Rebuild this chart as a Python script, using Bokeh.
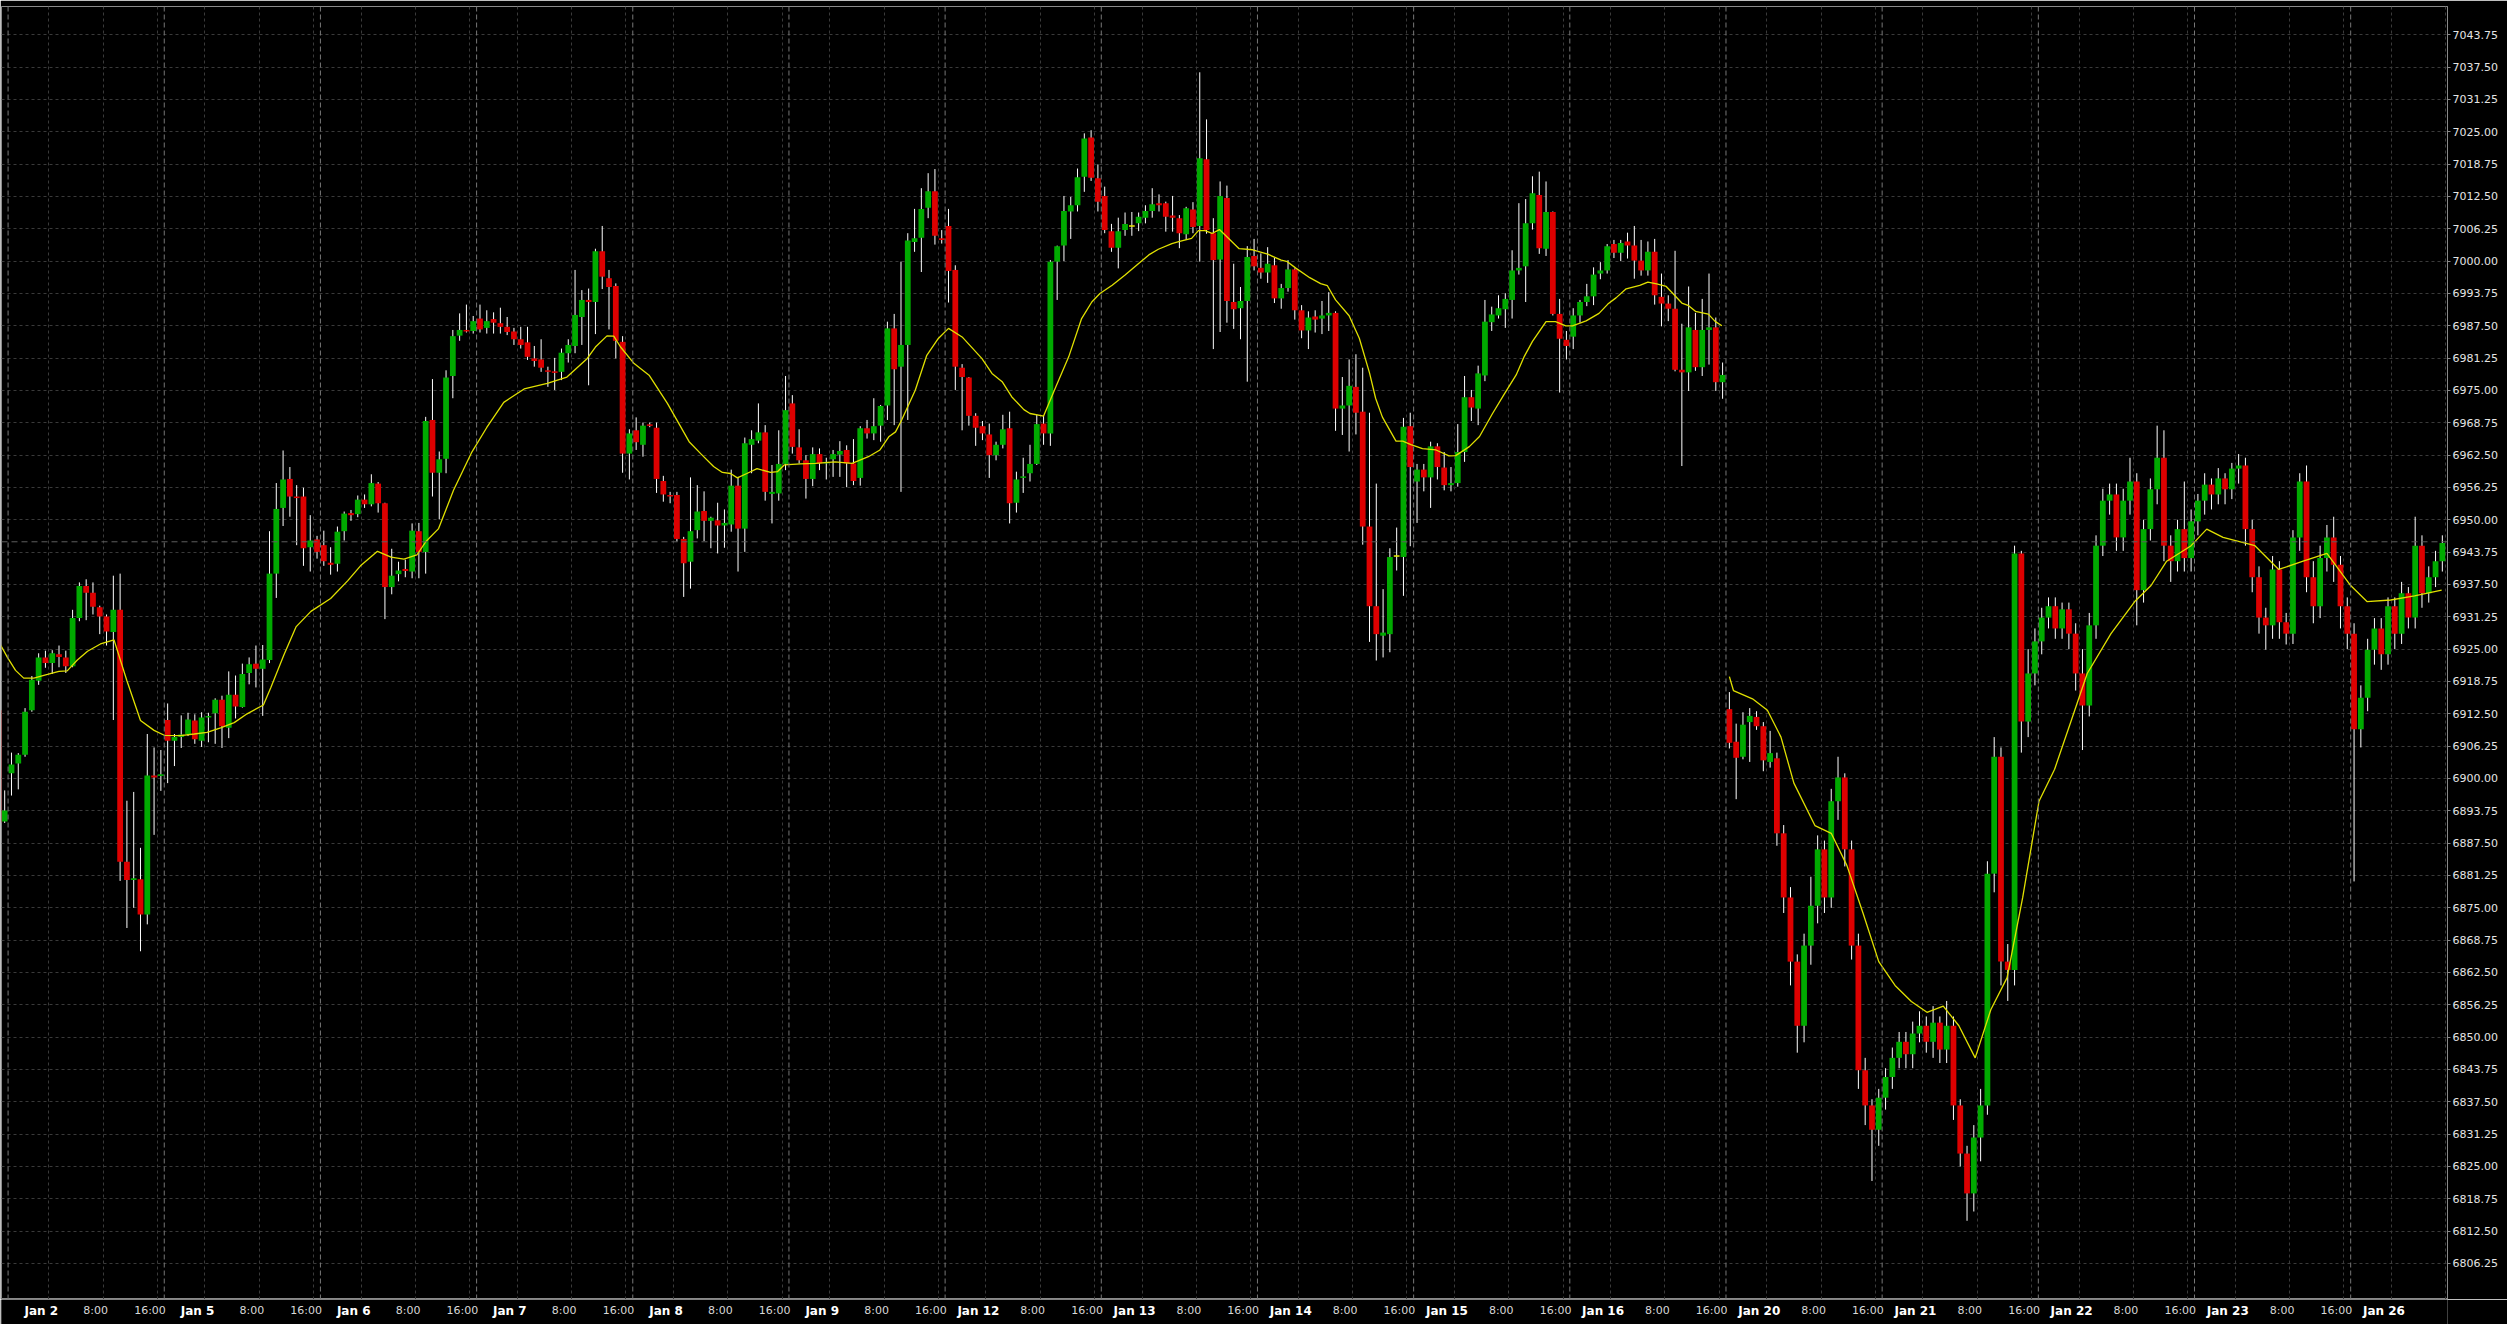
from bokeh.plotting import figure
from bokeh.layouts import column
from bokeh.models import ColumnDataSource, FixedTicker, PrintfTickFormatter, Span, Range1d
from bokeh.embed import file_html
from bokeh.resources import INLINE
from bokeh.core.properties import value

# ---------------- data (hourly bars, 23 per trading session) ----------------
first_bar = -1
opens = [
    6913.2, 6891.7,
    6901.0, 6902.9, 6904.6, 6913.2, 6918.9, 6923.4, 6922.3, 6924.0, 6923.4, 6921.7, 6931.0, 6937.2, 6935.9, 6933.1, 6931.3, 6928.3, 6932.6, 6883.9, 6880.4, 6880.5, 6873.7, 6900.6, 6900.5,
    6911.3, 6907.3, 6908.0, 6908.6, 6911.2, 6907.3, 6911.8, 6912.6, 6915.2, 6909.8, 6916.2, 6913.8, 6920.4, 6922.2, 6921.2, 6922.9, 6939.6, 6952.3, 6957.9, 6954.5, 6954.5, 6944.7, 6946.2,
    6945.1, 6941.7, 6941.5, 6947.8, 6951.3, 6951.1, 6953.9, 6953.0, 6957.0, 6953.2, 6937.0, 6939.5, 6940.5, 6940.0, 6947.8, 6943.8, 6969.3, 6959.1, 6961.8, 6977.8, 6985.6, 6986.7, 6986.5,
    6988.9, 6987.1, 6988.8, 6988.0, 6987.3, 6986.4, 6984.9, 6984.3, 6981.2, 6981.0, 6978.9, 6978.7, 6978.6, 6982.2, 6983.6, 6989.2, 6992.5, 6992.1, 7001.9, 6996.7, 6995.2, 6984.4, 6962.8,
    6967.3, 6964.5, 6968.4, 6967.8, 6957.5, 6954.8, 6954.8, 6946.3, 6941.9, 6948.0, 6951.7, 6949.8, 6949.9, 6948.9, 6949.1, 6956.6, 6948.3, 6964.5, 6965.3, 6966.9, 6955.0, 6955.1, 6960.8,
    6972.5, 6964.0, 6961.5, 6957.9, 6962.7, 6960.9, 6961.7, 6962.6, 6963.5, 6960.9, 6958.1, 6967.7, 6966.7, 6968.2, 6972.1, 6987.0, 6979.6, 6983.8, 7003.7, 7004.5, 7010.3, 7013.5, 7004.4,
    7006.8, 6998.3, 6979.4, 6977.5, 6970.1, 6968.1, 6966.5, 6962.5, 6964.5, 6967.7, 6953.3, 6958.1, 6959.0, 6960.8, 6968.6, 6966.7, 6999.9, 7003.0, 7009.6, 7010.8, 7016.3, 7023.9, 7016.0,
    7012.6, 7005.8, 7002.6, 7006.0, 7006.8, 7007.3, 7008.4, 7009.7, 7011.2, 7011.2, 7008.8, 7008.3, 7005.2, 7010.0, 7006.8, 7019.7, 7005.4, 7000.3, 7012.2, 6992.1, 6990.9, 6992.3, 7001.0,
    6998.7, 6997.8, 6999.2, 6992.8, 6994.8, 6998.4, 6990.5, 6986.6, 6989.3, 6988.9, 6989.5, 6990.0, 6971.5, 6972.1, 6975.7, 6970.9, 6948.7, 6933.3, 6927.6, 6927.9, 6943.0, 6942.8, 6968.1,
    6957.4, 6959.7, 6958.2, 6964.2, 6960.1, 6956.7, 6957.1, 6963.1, 6973.7, 6971.5, 6977.9, 6988.2, 6989.5, 6990.7, 6992.5, 6998.2, 6999.0, 7007.3, 7012.8, 7002.4, 7009.5, 6989.8, 6984.8,
    6985.4, 6989.5, 6992.1, 6993.2, 6997.6, 6998.2, 7003.3, 7001.6, 7003.8, 7003.0, 7000.1, 6998.2, 7001.8, 6993.1, 6991.8, 6990.8, 6979.0, 6978.5, 6986.7, 6979.5, 6986.7, 6987.2, 6976.6,
    6913.4, 6907.1, 6904.2, 6910.9, 6911.9, 6910.1, 6903.2, 6903.9, 6889.4, 6877.0, 6864.6, 6852.2, 6867.7, 6875.4, 6886.3, 6877.0, 6895.6, 6900.2, 6886.3, 6867.7, 6843.6, 6836.8, 6832.1,
    6838.3, 6842.3, 6846.0, 6849.1, 6846.7, 6850.7, 6852.2, 6849.1, 6852.8, 6847.6, 6852.2, 6836.8, 6827.5, 6819.8, 6830.6, 6836.8, 6881.6, 6904.2, 6864.6, 6863.0, 6943.5, 6911.0, 6920.3,
    6926.5, 6931.1, 6933.3, 6929.0, 6932.7, 6928.0, 6920.3, 6914.1, 6929.6, 6945.0, 6953.7, 6954.9, 6946.6, 6953.7, 6957.4, 6936.4, 6948.2, 6955.9, 6962.0, 6945.0, 6942.0, 6948.2, 6942.6,
    6949.7, 6953.7, 6956.8, 6954.9, 6958.0, 6955.9, 6959.9, 6960.5, 6948.2, 6938.9, 6931.1, 6929.6, 6940.4, 6930.2, 6928.0, 6946.6, 6957.4, 6938.9, 6933.3, 6942.6, 6946.6, 6941.3, 6933.3,
    6928.0, 6909.5, 6915.6, 6924.9, 6929.0, 6924.0, 6933.3, 6928.0, 6935.8, 6931.1, 6945.0, 6935.8, 6938.9, 6942.0,
]
highs = [
    6914.0, 6897.7,
    6905.0, 6904.9, 6913.6, 6919.8, 6924.2, 6924.7, 6924.8, 6925.7, 6924.7, 6932.6, 6937.9, 6938.5, 6937.9, 6933.4, 6931.7, 6939.2, 6939.6, 6895.7, 6897.4, 6886.6, 6908.6, 6906.0, 6905.5,
    6914.5, 6908.6, 6912.2, 6912.7, 6912.4, 6912.8, 6912.7, 6915.5, 6916.0, 6920.7, 6919.9, 6922.2, 6923.4, 6925.7, 6925.8, 6947.8, 6957.1, 6963.4, 6960.2, 6956.7, 6956.2, 6950.9, 6946.9,
    6947.9, 6944.7, 6948.7, 6951.6, 6951.9, 6954.7, 6954.9, 6958.8, 6957.3, 6953.3, 6944.4, 6941.9, 6942.3, 6949.3, 6949.4, 6969.9, 6977.2, 6963.2, 6978.9, 6986.7, 6989.9, 6991.6, 6989.4,
    6991.6, 6990.5, 6990.1, 6991.0, 6989.2, 6987.1, 6987.3, 6987.3, 6983.6, 6984.9, 6979.6, 6981.3, 6983.1, 6984.9, 6998.3, 6994.4, 6994.7, 7002.4, 7006.8, 6998.3, 6995.7, 6985.5, 6967.5,
    6969.8, 6968.8, 6968.8, 6968.8, 6958.5, 6955.4, 6955.4, 6946.7, 6958.2, 6956.7, 6955.5, 6950.6, 6953.3, 6952.0, 6959.7, 6958.3, 6965.9, 6967.3, 6972.5, 6968.3, 6960.6, 6967.3, 6977.8,
    6974.1, 6967.5, 6962.5, 6964.0, 6963.8, 6962.0, 6963.5, 6965.2, 6964.4, 6965.6, 6968.1, 6969.3, 6973.5, 6972.2, 6988.3, 6989.8, 6999.9, 7005.4, 7010.1, 7014.1, 7017.0, 7017.8, 7006.0,
    7010.1, 6999.2, 6980.1, 6977.6, 6970.6, 6969.1, 6968.6, 6965.1, 6970.3, 6970.9, 6959.3, 6962.0, 6964.5, 6970.3, 6970.1, 7000.2, 7003.0, 7012.6, 7012.4, 7017.9, 7024.7, 7025.3, 7018.7,
    7014.4, 7007.2, 7008.4, 7009.4, 7009.5, 7009.4, 7010.8, 7014.1, 7012.9, 7011.5, 7012.6, 7008.9, 7010.5, 7011.4, 7036.5, 7027.4, 7008.3, 7015.4, 7014.6, 6999.5, 6995.0, 7002.9, 7004.3,
    7001.5, 7002.7, 7000.6, 6995.6, 7000.2, 6998.6, 6991.5, 6990.3, 6990.5, 6992.3, 6994.0, 6990.3, 6977.6, 6981.0, 6982.0, 6979.4, 6970.7, 6957.0, 6936.6, 6944.5, 6948.5, 6969.7, 6970.7,
    6960.8, 6960.8, 6965.1, 6964.8, 6963.1, 6960.2, 6968.5, 6977.8, 6975.1, 6979.8, 6992.5, 6991.2, 6993.4, 6993.8, 7002.1, 7011.2, 7012.0, 7016.4, 7017.3, 7015.4, 7009.6, 6992.7, 6986.5,
    6990.9, 6992.5, 6995.6, 6998.8, 6999.8, 7003.3, 7004.1, 7004.1, 7005.5, 7006.8, 7004.1, 7003.8, 7004.3, 6997.6, 6993.4, 7002.0, 6987.9, 6995.1, 6990.0, 6992.7, 6997.6, 6989.1, 6980.4,
    6916.7, 6910.6, 6912.8, 6913.6, 6913.0, 6910.9, 6909.2, 6905.0, 6891.0, 6879.0, 6866.0, 6870.0, 6881.0, 6889.0, 6888.0, 6898.0, 6904.2, 6901.0, 6888.0, 6870.0, 6846.0, 6838.0, 6840.0,
    6844.0, 6848.0, 6851.0, 6851.0, 6853.0, 6855.0, 6854.0, 6856.0, 6854.0, 6857.0, 6854.0, 6838.0, 6829.0, 6833.0, 6840.0, 6884.0, 6908.0, 6906.0, 6868.0, 6945.0, 6944.0, 6925.0, 6929.0,
    6933.0, 6935.0, 6935.0, 6934.0, 6934.0, 6930.0, 6925.0, 6932.0, 6947.0, 6956.0, 6957.0, 6957.0, 6956.0, 6962.0, 6959.0, 6950.0, 6958.0, 6968.2, 6967.3, 6947.0, 6950.0, 6957.4, 6952.0,
    6955.0, 6959.0, 6958.0, 6960.0, 6959.0, 6961.0, 6962.7, 6962.0, 6950.0, 6941.0, 6933.0, 6943.0, 6942.0, 6932.0, 6948.0, 6959.0, 6960.5, 6942.0, 6945.0, 6949.0, 6950.6, 6943.0, 6935.0,
    6930.0, 6918.0, 6927.0, 6931.0, 6931.0, 6935.0, 6935.0, 6938.0, 6937.0, 6950.6, 6947.0, 6941.0, 6944.0, 6947.0,
]
lows = [
    6890.5, 6891.4,
    6896.7, 6897.9, 6904.2, 6912.9, 6918.1, 6921.4, 6920.2, 6921.5, 6920.4, 6921.5, 6930.4, 6930.6, 6931.7, 6927.9, 6925.7, 6911.3, 6880.2, 6871.1, 6875.0, 6866.6, 6871.8, 6889.1, 6897.6,
    6899.1, 6902.4, 6905.9, 6908.2, 6906.7, 6906.1, 6907.0, 6906.7, 6905.9, 6907.8, 6911.6, 6913.7, 6918.2, 6917.6, 6912.1, 6922.3, 6934.9, 6948.8, 6950.6, 6945.1, 6941.1, 6940.0, 6942.5,
    6941.1, 6939.4, 6940.0, 6946.0, 6949.8, 6950.5, 6952.3, 6952.6, 6951.4, 6930.8, 6935.6, 6938.1, 6938.9, 6938.7, 6938.7, 6939.6, 6954.5, 6950.1, 6959.0, 6973.5, 6984.6, 6986.2, 6986.0,
    6986.2, 6986.0, 6986.0, 6986.0, 6985.7, 6983.8, 6983.1, 6980.9, 6979.6, 6978.6, 6975.7, 6975.1, 6977.0, 6980.4, 6982.2, 6983.8, 6976.0, 6985.9, 6994.6, 6986.8, 6981.2, 6959.1, 6957.8,
    6963.5, 6962.2, 6967.9, 6955.2, 6953.5, 6953.2, 6945.8, 6935.1, 6936.7, 6946.4, 6945.9, 6944.5, 6943.5, 6944.6, 6947.7, 6940.0, 6943.8, 6959.0, 6964.8, 6953.7, 6949.3, 6953.7, 6959.6,
    6962.8, 6960.9, 6954.1, 6956.5, 6959.6, 6957.8, 6958.3, 6958.3, 6956.3, 6956.7, 6956.6, 6965.7, 6965.4, 6965.1, 6969.3, 6968.3, 6955.4, 6969.3, 7001.8, 6997.9, 7008.3, 7003.2, 7003.4,
    6992.0, 6975.1, 6967.3, 6968.2, 6964.3, 6965.4, 6958.1, 6961.5, 6963.8, 6949.3, 6951.4, 6955.2, 6957.4, 6960.6, 6964.5, 6964.3, 6992.5, 7000.0, 7004.3, 7009.6, 7013.4, 7015.5, 7009.6,
    7005.4, 7001.8, 6998.6, 7004.9, 7004.9, 7005.8, 7007.3, 7008.4, 7009.6, 7005.7, 7005.7, 7002.5, 7004.1, 7005.4, 6999.9, 7005.3, 6983.0, 6986.3, 6988.1, 6986.9, 6984.9, 6976.7, 6998.2,
    6996.6, 6995.8, 6991.9, 6990.8, 6994.1, 6988.7, 6985.1, 6983.0, 6986.2, 6985.9, 6986.5, 6967.2, 6966.4, 6963.2, 6966.5, 6945.2, 6926.4, 6922.8, 6923.4, 6924.4, 6940.2, 6935.3, 6944.9,
    6949.4, 6955.5, 6952.3, 6957.8, 6955.7, 6955.5, 6956.4, 6961.2, 6969.1, 6968.3, 6976.8, 6986.5, 6988.9, 6987.1, 6988.9, 6997.4, 6992.1, 7006.1, 7001.4, 7001.0, 6989.5, 6974.6, 6981.0,
    6983.0, 6988.1, 6991.3, 6991.5, 6996.5, 6997.6, 7000.6, 7000.0, 7000.5, 6996.6, 6997.2, 6997.2, 6991.6, 6987.4, 6988.4, 6978.7, 6960.4, 6974.9, 6978.8, 6977.8, 6980.0, 6974.9, 6973.4,
    6905.8, 6896.0, 6903.7, 6903.2, 6909.4, 6901.4, 6902.1, 6887.0, 6874.0, 6860.0, 6847.0, 6849.0, 6864.0, 6872.0, 6874.0, 6875.0, 6892.0, 6883.0, 6865.0, 6840.0, 6833.0, 6822.2, 6829.0,
    6836.0, 6840.0, 6844.0, 6844.0, 6844.0, 6849.0, 6847.0, 6846.0, 6845.0, 6845.0, 6834.0, 6825.0, 6814.5, 6816.3, 6826.0, 6835.0, 6878.0, 6860.0, 6857.0, 6860.0, 6905.0, 6908.0, 6918.0,
    6924.0, 6929.0, 6927.0, 6927.0, 6925.0, 6917.0, 6905.5, 6912.0, 6927.0, 6943.0, 6951.0, 6944.0, 6944.0, 6951.0, 6929.6, 6934.0, 6946.0, 6953.0, 6942.0, 6938.0, 6940.0, 6940.0, 6940.0,
    6947.0, 6951.0, 6952.0, 6953.0, 6953.0, 6954.0, 6957.0, 6945.0, 6936.0, 6928.0, 6924.9, 6927.0, 6927.0, 6925.9, 6926.0, 6944.0, 6936.0, 6930.0, 6931.0, 6940.0, 6938.0, 6929.0, 6925.0,
    6880.1, 6906.0, 6913.0, 6922.0, 6921.0, 6922.0, 6925.0, 6926.0, 6929.0, 6929.0, 6933.0, 6934.0, 6937.0, 6940.0,
]
closes = [
    6891.5, 6893.8,
    6902.7, 6904.6, 6912.9, 6919.1, 6923.4, 6922.3, 6924.2, 6923.5, 6921.7, 6931.0, 6937.2, 6935.9, 6933.2, 6931.3, 6928.4, 6932.6, 6883.9, 6880.4, 6880.7, 6873.7, 6900.6, 6900.2, 6900.8,
    6907.3, 6908.0, 6908.5, 6911.4, 6907.6, 6911.8, 6912.1, 6915.2, 6910.1, 6916.2, 6913.9, 6920.2, 6922.1, 6921.2, 6923.0, 6939.6, 6952.1, 6957.8, 6954.5, 6954.2, 6944.5, 6946.0, 6943.8,
    6942.0, 6941.3, 6947.7, 6951.2, 6950.9, 6953.9, 6953.0, 6957.1, 6953.2, 6937.0, 6939.2, 6940.2, 6940.1, 6947.9, 6943.8, 6969.1, 6959.1, 6961.7, 6977.5, 6985.5, 6986.7, 6986.4, 6988.4,
    6986.8, 6988.4, 6988.1, 6987.3, 6986.3, 6984.9, 6983.8, 6981.5, 6980.7, 6979.4, 6978.6, 6978.4, 6982.3, 6983.8, 6989.6, 6992.5, 6992.1, 7001.9, 6997.0, 6995.0, 6984.6, 6962.8, 6966.7,
    6965.0, 6968.2, 6968.2, 6957.9, 6954.9, 6954.5, 6946.3, 6941.6, 6947.8, 6951.6, 6949.8, 6950.4, 6948.9, 6949.4, 6956.6, 6948.3, 6964.8, 6965.6, 6966.9, 6955.4, 6955.4, 6960.8, 6971.2,
    6964.1, 6961.5, 6957.9, 6962.7, 6960.9, 6961.2, 6962.7, 6963.3, 6960.9, 6957.5, 6967.7, 6966.7, 6968.1, 6972.0, 6987.0, 6979.1, 6983.8, 7004.0, 7004.4, 7010.1, 7013.5, 7004.9, 7004.1,
    6998.1, 6979.6, 6977.6, 6970.1, 6967.8, 6966.7, 6962.5, 6964.5, 6967.5, 6953.2, 6957.8, 6958.4, 6960.8, 6968.5, 6966.7, 6999.9, 7002.9, 7009.7, 7010.8, 7016.2, 7023.7, 7016.1, 7011.5,
    7006.0, 7002.6, 7005.8, 7007.2, 7006.8, 7008.6, 7009.7, 7011.0, 7010.8, 7008.6, 7008.4, 7005.4, 7010.2, 7006.6, 7019.9, 7006.0, 7000.2, 7012.6, 6992.3, 6990.7, 6992.3, 7000.8, 6999.0,
    6997.8, 6999.5, 6992.8, 6994.8, 6998.4, 6990.5, 6986.6, 6989.1, 6988.7, 6989.5, 6990.0, 6971.5, 6972.1, 6975.9, 6970.7, 6948.7, 6933.3, 6927.9, 6928.2, 6942.8, 6943.0, 6968.0, 6960.2,
    6959.7, 6958.2, 6964.2, 6960.2, 6956.7, 6957.1, 6963.1, 6973.7, 6971.7, 6978.3, 6988.3, 6989.7, 6990.9, 6992.7, 6998.2, 6998.7, 7007.3, 7013.1, 7002.5, 7009.5, 6989.8, 6985.0, 6983.6,
    6989.5, 6992.1, 6993.2, 6997.4, 6998.2, 7002.9, 7001.6, 7003.5, 7003.0, 7000.1, 6998.2, 7001.8, 6993.4, 6991.8, 6990.8, 6979.0, 6978.5, 6987.2, 6979.5, 6986.7, 6987.2, 6976.6, 6978.0,
    6906.9, 6904.0, 6910.4, 6912.1, 6910.1, 6903.5, 6904.9, 6889.4, 6877.0, 6864.6, 6852.2, 6867.7, 6875.4, 6886.3, 6877.0, 6895.6, 6900.2, 6886.3, 6867.7, 6843.6, 6836.8, 6832.1, 6838.3,
    6842.3, 6846.0, 6849.1, 6846.7, 6850.7, 6852.2, 6849.1, 6852.8, 6847.6, 6852.2, 6836.8, 6827.5, 6819.8, 6830.6, 6836.8, 6881.6, 6904.2, 6864.6, 6863.0, 6943.5, 6911.0, 6920.3, 6926.5,
    6931.1, 6933.3, 6929.0, 6932.7, 6928.0, 6920.3, 6914.1, 6929.6, 6945.0, 6953.7, 6954.9, 6946.6, 6953.7, 6957.4, 6936.4, 6948.2, 6955.9, 6962.0, 6945.0, 6942.0, 6948.2, 6942.6, 6949.7,
    6953.7, 6956.8, 6954.9, 6958.0, 6955.9, 6959.9, 6960.5, 6948.2, 6938.9, 6931.1, 6929.6, 6940.4, 6930.2, 6928.0, 6946.6, 6957.4, 6938.9, 6933.3, 6942.6, 6946.6, 6941.3, 6933.3, 6928.0,
    6909.5, 6915.6, 6924.9, 6929.0, 6924.0, 6933.3, 6928.0, 6935.8, 6931.1, 6945.0, 6935.8, 6938.9, 6942.0, 6945.5,
]

# moving average line (two pieces)
ma1_bar = [-0.6, 0.4, 1.6, 2.8, 4.3, 6.3, 8.0, 9.2, 10.7, 12.2, 14.1, 16.1, 18.0, 20.0, 22.0, 23.5, 25.9, 27.9, 29.8, 31.8,
           33.8, 35.7, 38.1, 39.2, 41.1, 42.9, 45.1, 48.0, 50.5, 52.4, 54.9, 56.9, 58.8, 60.7, 62.0, 63.9, 66.1, 68.8, 71.0, 73.5,
           76.5, 79.9, 82.8, 85.8, 87.0, 88.7, 89.7, 90.7, 92.7, 94.9, 97.6, 100.8, 102.5, 104.4, 105.7, 106.9, 107.9, 109.3, 110.8, 112.8,
           113.8, 114.8, 117.2, 119.4, 122.3, 124.8, 127.2, 128.9, 130.2, 131.2, 132.1, 134.1, 135.8, 137.5, 139.0, 141.0, 143.9, 145.4, 146.9, 148.3,
           150.1, 151.0, 153.0, 154.7, 156.7, 158.6, 160.1, 161.3, 163.1, 165.0, 167.0, 168.5, 169.9, 171.9, 172.9, 174.8, 175.8, 176.8, 177.8, 178.9,
           181.8, 183.8, 186.0, 188.0, 188.9, 190.2, 192.2, 193.8, 194.8, 196.0, 198.0, 199.5, 201.0, 201.9, 202.9, 204.9, 205.9, 207.1, 208.8, 210.8,
           212.7, 213.7, 215.7, 217.2, 219.1, 220.8, 222.6, 223.8, 225.0, 227.0, 228.4, 229.9, 230.9, 232.9, 234.8, 236.1, 237.3, 238.8, 240.8, 242.0,
           243.3, 244.7, 247.0, 248.0, 249.0, 250.9, 251.9, 252.9]
ma1_val = [6925.8, 6923.4, 6920.9, 6919.4, 6919.4, 6920.1, 6920.7, 6920.8, 6922.9, 6924.6, 6926.0, 6926.8, 6918.9, 6911.2, 6909.3, 6908.35, 6908.3, 6908.6, 6908.9, 6909.8,
           6910.8, 6912.5, 6914.2, 6917.6, 6923.8, 6929.3, 6932.3, 6934.8, 6938.2, 6941.1, 6943.9, 6942.8, 6942.4, 6943.2, 6945.75, 6948.3, 6955.7, 6963.1, 6967.85, 6972.7,
           6975.3, 6976.35, 6977.6, 6981.2, 6983.4, 6985.55, 6985.5, 6983.4, 6980.2, 6977.95, 6972.5, 6965.1, 6962.8, 6960.3, 6959.15, 6958.95, 6958.1, 6958.95, 6959.9, 6959.15,
           6959.3, 6960.6, 6960.8, 6960.9, 6961.2, 6960.9, 6962.2, 6963.5, 6966.05, 6967.0, 6969.3, 6975.05, 6981.8, 6985.05, 6987.0, 6985.35, 6981.2, 6978.3, 6976.7, 6973.8,
           6971.3, 6970.55, 6970.05, 6975.4, 6981.5, 6988.9, 6992.1, 6993.75, 6995.35, 6997.3, 6999.55, 7001.2, 7002.3, 7003.4, 7003.75, 7004.4, 7005.9, 7005.9, 7005.35, 7006.1,
           7002.4, 7002.2, 7001.35, 7000.2, 6999.9, 6998.6, 6996.8, 6995.65, 6995.25, 6992.5, 6989.45, 6985.1, 6978.4, 6973.5, 6969.85, 6965.2, 6965.2, 6964.55, 6963.75, 6963.5,
           6962.35, 6962.4, 6964.15, 6966.1, 6970.5, 6974.2, 6978.0, 6981.6, 6984.5, 6988.3, 6988.3, 6987.5, 6987.5, 6988.45, 6989.9, 6991.7, 6992.9, 6994.65, 6995.3, 6995.95,
           6995.6, 6995.1, 6991.9, 6991.4, 6990.3, 6989.75, 6988.35, 6987.5]
ma2_bar = [254.0, 254.6, 257.4, 259.6, 261.6, 263.5, 266.6, 269.0, 271.3, 273.7, 276.0, 278.4, 280.8, 283.1, 285.5, 287.8, 290.2, 292.5, 294.9, 297.2,
           299.6, 301.9, 304.3, 306.7, 310.2, 313.7, 316.1, 318.4, 322.0, 324.3, 326.7, 331.4, 334.9, 338.5, 342.0, 345.5, 347.9, 351.4, 354.9, 358.9]
ma2_val = [6919.7, 6917.0, 6915.4, 6913.2, 6908.0, 6899.1, 6890.9, 6889.4, 6883.2, 6873.9, 6864.6, 6860.0, 6856.9, 6854.8, 6856.0, 6852.2, 6846.0, 6855.3, 6861.5, 6877.0,
           6895.6, 6901.8, 6911.0, 6920.3, 6928.0, 6934.2, 6937.3, 6942.0, 6945.0, 6948.2, 6946.6, 6945.0, 6940.4, 6942.0, 6943.5, 6937.3, 6934.2, 6934.5, 6935.3, 6936.4]

day_names = ["Jan 2", "Jan 5", "Jan 6", "Jan 7", "Jan 8", "Jan 9", "Jan 12", "Jan 13",
             "Jan 14", "Jan 15", "Jan 16", "Jan 20", "Jan 21", "Jan 22", "Jan 23", "Jan 26"]
time_names = ["8:00", "16:00"]
bars_per_session = 23
first_session_bar = 1
offset_midnight, offset_8, offset_16 = 6, 14, 22     # bars after the 18:00 session open
price_ticks = [6806.25 + 6.25 * k for k in range(39)]
last_price = 6945.75

# ---------------- figure ----------------
W = 2507
H_MAIN, H_LAB = 1299, 25
MB_TOP, MB_LEFT, MB_RIGHT = 6, 1, 60
x0, x1 = -0.47, 359.76
y0, y1 = 6799.29, 7049.22
BG = "#000000"

p = figure(width=W, height=H_MAIN, output_backend="svg", toolbar_location=None,
           x_range=Range1d(x0, x1), y_range=Range1d(y0, y1), y_axis_location="right",
           min_border_left=MB_LEFT, min_border_top=MB_TOP, min_border_right=MB_RIGHT, min_border_bottom=0)
p.background_fill_color = BG
p.border_fill_color = BG
p.outline_line_color = "#8a8a8a"
p.outline_line_width = 1

p.xaxis.visible = False
p.yaxis.ticker = FixedTicker(ticks=price_ticks)
p.yaxis.formatter = PrintfTickFormatter(format="%.2f")
p.yaxis.major_label_text_color = "#e4e4e4"
p.yaxis.major_label_text_font = "DejaVu Sans"
p.yaxis.major_label_text_font_size = "11px"
p.yaxis.axis_line_color = "#8a8a8a"
p.yaxis.major_tick_line_color = "#8a8a8a"
p.yaxis.major_tick_out = 3
p.yaxis.major_tick_in = 0
p.yaxis.minor_tick_line_color = None
p.yaxis.major_label_standoff = 2

sess_starts = [first_session_bar + bars_per_session * k for k in range(len(day_names))]
grid_x = []
for s in sess_starts:
    for off in (offset_midnight, offset_8, offset_16):
        gx = s + off - 0.5
        if gx <= x1:
            grid_x.append(gx)
p.xgrid.ticker = FixedTicker(ticks=grid_x)
p.xgrid.grid_line_color = "#3a3a3a"
p.xgrid.grid_line_dash = "3 3"
p.ygrid.ticker = FixedTicker(ticks=price_ticks)
p.ygrid.grid_line_color = "#3a3a3a"
p.ygrid.grid_line_dash = "3 3"

for s in sess_starts:
    p.add_layout(Span(location=s - 0.5, dimension="height", line_color="#777777",
                      line_dash="5 3", line_width=1))
p.add_layout(Span(location=last_price, dimension="width", line_color="#5e5e5e",
                  line_dash="6 4", line_width=1))

# candles
n = min(len(opens), len(highs), len(lows), len(closes))
xs = [first_bar + i for i in range(n)]
tops, bots, cols = [], [], []
for i in range(n):
    o, c = opens[i], closes[i]
    t, b = max(o, c), min(o, c)
    if t - b < 0.3:
        mid = (t + b) / 2
        t, b = mid + 0.15, mid - 0.15
    tops.append(t)
    bots.append(b)
    cols.append("#00aa00" if c > o else ("#dd0000" if c < o else "#e8e800"))
src = ColumnDataSource(dict(x=xs, h=highs[:n], l=lows[:n], t=tops, b=bots, c=cols))
p.segment(x0="x", y0="l", x1="x", y1="h", source=src, line_color="#ffffff", line_width=1)
p.vbar(x="x", width=0.85, top="t", bottom="b", source=src, fill_color="c", line_color=None)

p.line(ma1_bar, ma1_val, line_color="#e0e000", line_width=1.3)
p.line(ma2_bar, ma2_val, line_color="#e0e000", line_width=1.3)

# ---------------- time-axis label strip ----------------
lab = figure(width=W, height=H_LAB, output_backend="svg", toolbar_location=None,
             x_range=p.x_range, y_range=Range1d(0, 1),
             min_border_left=MB_LEFT, min_border_top=0, min_border_right=MB_RIGHT, min_border_bottom=0)
lab.background_fill_color = BG
lab.border_fill_color = BG
lab.outline_line_color = None
lab.axis.visible = False
lab.grid.visible = False

day_x, day_t, tm_x, tm_t = [], [], [], []
for k, s in enumerate(sess_starts):
    for off, txt, is_day in ((offset_midnight, day_names[k], True), (offset_8, time_names[0], False),
                             (offset_16, time_names[1], False)):
        lx = s + off - 1.6
        if lx < x1 - 3:
            if is_day:
                day_x.append(lx); day_t.append(txt)
            else:
                tm_x.append(lx); tm_t.append(txt)
y_mid = 1 - 11 / H_LAB
lab.text(x=day_x, y=[y_mid] * len(day_x), text=day_t, text_font=value("DejaVu Sans"),
         text_font_size="12px", text_font_style="bold", text_color="#ffffff",
         text_align="center", text_baseline="middle")
lab.text(x=tm_x, y=[y_mid] * len(tm_x), text=tm_t, text_font=value("DejaVu Sans"),
         text_font_size="11px", text_color="#d8d8d8",
         text_align="center", text_baseline="middle")

layout = column(p, lab, spacing=0)
open("out.html", "w").write(file_html(layout, INLINE))
